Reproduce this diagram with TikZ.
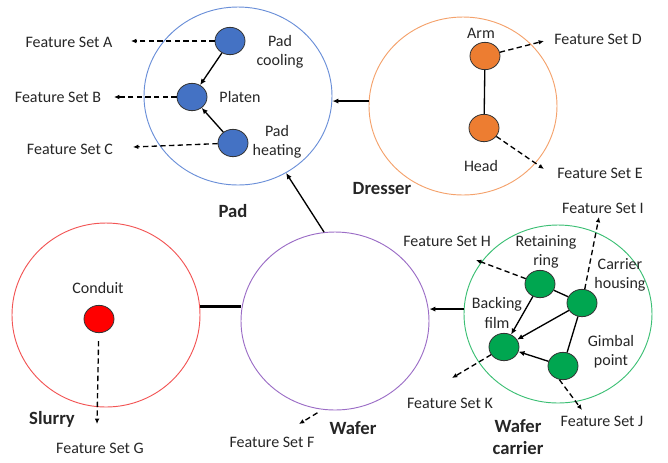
\documentclass[tikz,border=0pt]{standalone}
\usepackage{fontspec}
\setmainfont{Carlito}
\usetikzlibrary{arrows.meta,shapes.geometric}
\definecolor{padC}{HTML}{6A8FD8}
\definecolor{dresC}{HTML}{F4A26C}
\definecolor{slurC}{HTML}{F25555}
\definecolor{wafC}{HTML}{9B6DC6}
\definecolor{carC}{HTML}{3CBF74}
\definecolor{blueF}{HTML}{4472C4}
\definecolor{orangeF}{HTML}{ED7D31}
\definecolor{redF}{HTML}{FF0000}
\definecolor{greenF}{HTML}{00A650}
\definecolor{txt}{HTML}{262626}
\begin{document}
\begin{tikzpicture}[x=0.75pt,y=-0.75pt,
  big/.style={ellipse, draw, line width=0.7pt, minimum width=141pt, minimum height=133.5pt, inner sep=0pt},
  comp/.style={ellipse, draw=black!80, line width=0.6pt, minimum width=22.5pt, minimum height=20.5pt, inner sep=0pt},
  lbl/.style={font=\fontsize{12}{14.5}\selectfont, text=txt, align=center, inner sep=0pt},
  ttl/.style={font=\fontsize{14}{16.5}\selectfont\bfseries, text=txt, align=center, inner sep=0pt},
  feat/.style={line width=1pt, dash pattern=on 4pt off 2.5pt, -{Latex[length=4pt,width=3.5pt]}},
  link/.style={line width=1pt, -{Latex[length=4.5pt,width=4pt]}},
  plain/.style={line width=1pt}]
\useasboundingbox (0,0) rectangle (668,462);

% big circles
\node[big, draw=padC] (pad) at (238,96) {};
\node[big, draw=dresC] (dres) at (463,106) {};
\node[big, draw=slurC, minimum height=138pt] (slur) at (106,315) {};
\node[big, draw=wafC] (waf) at (335,321) {};
\node[big, draw=carC] (car) at (558,314) {};

% titles
\node[ttl] (tPad) at (233,211) {Pad};
\node[ttl] (tDres) at (382,189) {Dresser};
\node[ttl] (tSlur) at (52,419) {Slurry};
\node[ttl] (tWaf) at (353,428) {Wafer};
\node[ttl] (tCar) at (518,437) {Wafer\\carrier};

% Pad components
\node[comp, fill=blueF] (pcool) at (230,41) {};
\node[comp, fill=blueF] (plat) at (192,97) {};
\node[comp, fill=blueF] (pheat) at (233,143) {};
\node[lbl] (lpcool) at (280,52) {Pad\\cooling};
\node[lbl] (lplat) at (240,97) {Platen};
\node[lbl] (lpheat) at (277,142) {Pad\\heating};
\draw[link] (pcool) -- (plat);
\draw[link] (pheat) -- (plat);

% Dresser components
\node[comp, fill=orangeF] (arm) at (485,56) {};
\node[comp, fill=orangeF] (head) at (484,128) {};
\node[lbl] (larm) at (481,33) {Arm};
\node[lbl] (lhead) at (481,166) {Head};
\draw[plain] (arm) -- (head);

% Slurry
\node[comp, fill=redF] (cond) at (99,319) {};
\node[lbl] (lcond) at (98,288) {Conduit};

% Wafer carrier components
\node[comp, fill=greenF] (ring) at (540,284) {};
\node[comp, fill=greenF] (chous) at (582,303) {};
\node[comp, fill=greenF] (bfilm) at (504,347) {};
\node[comp, fill=greenF] (gimb) at (563,366) {};
\node[lbl] (lring) at (546,252) {Retaining\\ring};
\node[lbl] (lchous) at (620,275) {Carrier\\housing};
\node[lbl] (lbfilm) at (497,313) {Backing\\film};
\node[lbl] (lgimb) at (611,352) {Gimbal\\point};
\draw[link] (ring) -- (bfilm);
\draw[plain] (ring) -- (chous);
\draw[link] (chous) -- (bfilm);
\draw[plain] (chous) -- (gimb);
\draw[link] (gimb) -- (bfilm);

% feature set labels
\node[lbl] (fA) at (69,42) {Feature Set A};
\node[lbl] (fB) at (58,97) {Feature Set B};
\node[lbl] (fC) at (70,149) {Feature Set C};
\node[lbl] (fD) at (598,39) {Feature Set D};
\node[lbl] (fE) at (600,173) {Feature Set E};
\node[lbl] (fF) at (272,442) {Feature Set F};
\node[lbl] (fG) at (100,448) {Feature Set G};
\node[lbl] (fH) at (447,241) {Feature Set H};
\node[lbl] (fI) at (603,208) {Feature Set I};
\node[lbl] (fJ) at (602,421) {Feature Set J};
\node[lbl] (fK) at (450,403) {Feature Set K};

% arrow tip coordinates
\coordinate (tA) at (131,41);
\coordinate (tB) at (114,97);
\coordinate (tC) at (133,147);
\coordinate (tD) at (544,41);
\coordinate (tE) at (544,169);
\coordinate (tF) at (299,424);
\coordinate (tG) at (97,424);
\coordinate (tH) at (476,260);
\coordinate (tI) at (599,217);
\coordinate (tJ) at (582,410);
\coordinate (tK) at (452,378);

\draw[feat] (pcool) -- (tA);
\draw[feat] (plat) -- (tB);
\draw[feat] (pheat) -- (tC);
\draw[feat] (arm) -- (tD);
\draw[feat] (head) -- (tE);
\draw[feat, shorten <=4.5pt] (waf.262) -- (tF);
\draw[feat, shorten <=6pt] (cond) -- (tG);
\draw[feat] (ring) -- (tH);
\draw[feat] (chous) -- (tI);
\draw[feat] (gimb.255) -- (tJ);
\draw[feat] (bfilm) -- (tK);

% connections between circles
\draw[link] (dres.177.6) -- (dres.177.6 -| pad.east);
\draw[link] (waf.97.6) -- (pad.302.7);
\draw[line width=2.2pt] (slur.5.5) -- (slur.5.5 -| waf.west);
\draw[link] (car.177) -- (car.177 -| waf.east);
\end{tikzpicture}
\end{document}
